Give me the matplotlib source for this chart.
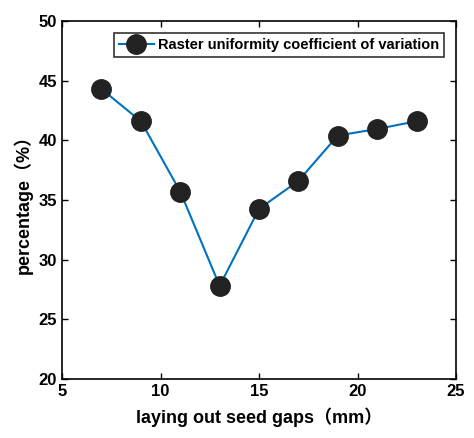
import matplotlib
matplotlib.use("Agg")
import matplotlib.pyplot as plt

gaps = [7, 9, 11, 13, 15, 17, 19, 21, 23]
cv = [44.3, 41.6, 35.7, 27.8, 34.25, 36.6, 40.4, 40.95, 41.6]
series_label = "Raster uniformity coefficient of variation"
xlabel = "laying out seed gaps（mm）"
ylabel = "percentage（%）"

fam = ['Liberation Sans', 'Noto Sans CJK SC', 'DejaVu Sans']
plt.rcParams['font.family'] = fam
plt.rcParams['font.weight'] = 'bold'

fig = plt.figure(figsize=(4.74, 4.38), dpi=100)
ax = fig.add_axes([0.131, 0.135, 0.831, 0.817])
ax.plot(gaps, cv, color='#0072BD', lw=1.5, marker='o', markersize=14,
        markerfacecolor='#222222', markeredgecolor='#222222', label=series_label)
ax.set_xlim(5, 25)
ax.set_ylim(20, 50)
ax.set_xticks([5, 10, 15, 20, 25])
ax.set_yticks([20, 25, 30, 35, 40, 45, 50])
ax.tick_params(direction='in', top=True, right=True, labelsize=12, length=4, width=1)
for lab in ax.get_xticklabels() + ax.get_yticklabels():
    lab.set_fontweight('bold')
for s in ax.spines.values():
    s.set_linewidth(1.2)
ax.set_xlabel(xlabel, fontsize=13, fontweight='bold', labelpad=6)
ax.set_ylabel(ylabel, fontsize=13, fontweight='bold', labelpad=4)
leg = ax.legend(loc='upper right', frameon=True, fancybox=False,
                edgecolor='black', borderaxespad=0.8, handlelength=2.4,
                borderpad=0.35, handletextpad=0.3, prop={'weight': 'bold', 'size': 10.5})
leg.get_frame().set_linewidth(1.2)
fig.savefig("out.png", dpi=100)
